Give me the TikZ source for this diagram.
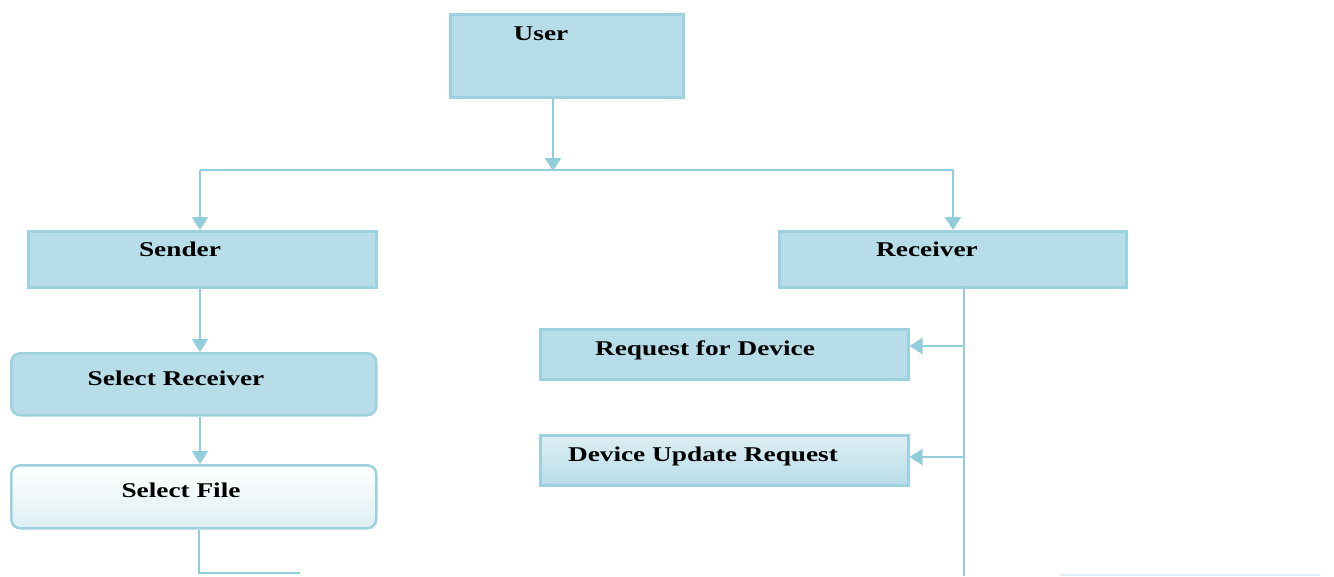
\documentclass[tikz,border=0pt]{standalone}
\usepackage{fontspec}
\setmainfont{Liberation Serif}
\usetikzlibrary{arrows.meta}
\definecolor{boxfill}{HTML}{B7DDE8}
\definecolor{boxline}{HTML}{9DD1DF}
\definecolor{conn}{HTML}{92CDDC}
\definecolor{pale}{HTML}{DDEFF4}
\newcommand{\wide}[1]{\scalebox{1.3}[1]{#1}}
\tikzset{
  box/.style={draw=boxline, line width=2.5pt, fill=boxfill, inner sep=0pt, anchor=north west},
  lbl/.style={font=\bfseries\fontsize{21}{23}\selectfont, inner sep=0pt, text=black},
  conline/.style={draw=conn, line width=2.5pt},
  arr/.style={conline, -{Triangle[width=16pt,length=13pt]}},
}
\begin{document}
\begin{tikzpicture}[x=1pt,y=-1pt]
\useasboundingbox (0,0) rectangle (1334,576);
% boxes
\node[box, minimum width=233pt, minimum height=83pt] (user) at (449,13) {};
\node[box, minimum width=348pt, minimum height=56pt] (sender) at (27,230) {};
\node[box, minimum width=347pt, minimum height=56pt] (receiver) at (778,230) {};
\node[box, rounded corners=9pt, minimum width=365pt, minimum height=62pt] (selrec) at (10,352) {};
\node[box, rounded corners=9pt, fill=none, top color=white, bottom color=pale, minimum width=365pt, minimum height=63pt] (selfile) at (10,464) {};
\node[box, minimum width=368pt, minimum height=50pt] (reqdev) at (539,328) {};
\node[box, fill=none, top color=pale, bottom color=boxfill, minimum width=368pt, minimum height=50pt] (devupd) at (539,434) {};
% labels
\node[lbl] (tuser) at (541,34) {\wide{User}};
\node[lbl] (tsender) at (180,249) {\wide{Sender}};
\node[lbl] (treceiver) at (927,249) {\wide{Receiver}};
\node[lbl] (tselrec) at (176,378) {\wide{Select Receiver}};
\node[lbl] (tselfile) at (181,490) {\wide{Select File}};
\node[lbl] (treqdev) at (705,350) {\wide{Request for Device}};
\node[lbl] (tdevupd) at (703,456) {\wide{Device Update Request}};
% connectors
\coordinate (split) at (553,170);
\coordinate (sl) at (200,170);
\coordinate (sr) at (953,170);
\coordinate (rx) at (964,286);
\coordinate (rbot) at (964,576);
\coordinate (fbend) at (199,573);
\coordinate (fend) at (300,573);
\draw[arr] (user.south -| split) -- ([yshift=-1pt]split);
\draw[conline] (sl) -- (sr);
\draw[arr] (sl) -- (sl |- sender.north);
\draw[arr] (sr) -- (sr |- receiver.north);
\draw[arr] (sender.south -| sl) -- (sl |- selrec.north);
\draw[arr] (selrec.south -| sl) -- (sl |- selfile.north);
\draw[conline] (selfile.south -| fbend) -- (fbend) -- (fend);
\draw[conline] (rx) -- (rbot);
\draw[arr] (964,346) -- (reqdev.east |- 0,346);
\draw[arr] (964,457) -- (devupd.east |- 0,457);
\draw[draw=pale, line width=1.5pt] (1060,575) -- (1320,575);
\end{tikzpicture}
\end{document}
